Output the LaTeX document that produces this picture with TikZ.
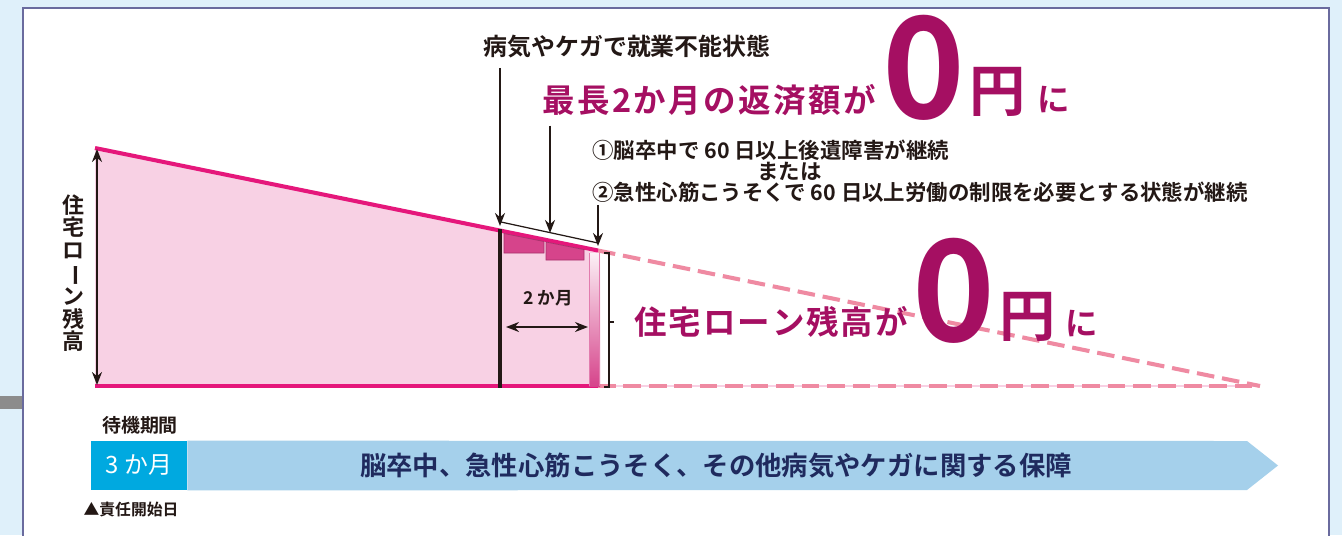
\documentclass[tikz,border=0pt]{standalone}
\usepackage{fontspec}
\setmainfont{Noto Sans CJK JP}[BoldFont={* Bold}]
\usepackage{graphicx}
\usetikzlibrary{arrows.meta,positioning,calc}
\definecolor{bgblue}{HTML}{DFF0FA}
\definecolor{panelline}{HTML}{6A6B9E}
\definecolor{balmagenta}{HTML}{E5177B}
\definecolor{pinkfill}{HTML}{F8D1E4}
\definecolor{pinkdash}{HTML}{EF8AA2}
\definecolor{pinkdark}{HTML}{D6448B}
\definecolor{pinkedge}{HTML}{A8306B}
\definecolor{headmag}{HTML}{A50F62}
\definecolor{waitblue}{HTML}{00A9E0}
\definecolor{covblue}{HTML}{A5D0EB}
\definecolor{navytext}{HTML}{1F2A5E}
\definecolor{inktext}{HTML}{231815}
\newcommand\hk{\kern1.4pt}
\newcommand\lk{\kern1.1pt}
\tikzset{
  balline/.style={draw=balmagenta,line width=2.3pt},
  dashline/.style={draw=pinkdash,line width=2.3pt,dash pattern=on 10pt off 4.5pt},
  downarr/.style={-{Stealth[length=0.26cm,width=0.2cm]},draw=inktext,line width=1.1pt},
  duarr/.style={{Stealth[length=0.26cm,width=0.2cm]}-{Stealth[length=0.26cm,width=0.2cm]},draw=inktext,line width=1.1pt},
  sicklbl/.style={font=\bfseries\fontsize{13.6}{15}\selectfont,text=inktext,inner sep=0pt},
  condlbl/.style={font=\bfseries\fontsize{12.2}{11.7}\selectfont,text=inktext,inner sep=0pt,align=left},
  headlbl/.style={font=\bfseries\fontsize{18.5}{20}\selectfont,text=headmag,inner sep=0pt},
  zerolbl/.style={font=\bfseries\fontsize{80}{80}\selectfont,text=headmag,inner sep=0pt},
  yenlbl/.style={font=\bfseries\fontsize{32}{32}\selectfont,text=headmag,inner sep=0pt},
  monlbl/.style={font=\bfseries\fontsize{10}{12}\selectfont,text=inktext,inner sep=0pt},
  vlbl/.style={font=\bfseries\fontsize{12.5}{12.7}\selectfont,text=inktext,inner sep=0pt,align=center},
  waitlbl/.style={font=\bfseries\fontsize{10.8}{12}\selectfont,text=inktext,inner sep=0pt},
  waitbox/.style={fill=waitblue,text=white,font=\fontsize{13.6}{15}\selectfont,
    minimum width=1.92cm,minimum height=0.98cm,inner sep=0pt},
  covlbl/.style={font=\bfseries\fontsize{15}{16}\selectfont,text=navytext,inner sep=0pt},
  startlbl/.style={font=\bfseries\fontsize{9}{10}\selectfont,text=inktext,inner sep=0pt},
}

\begin{document}
\begin{tikzpicture}[x=0.02cm,y=-0.02cm]
  % background and frame
  \fill[bgblue] (0,0) rectangle (1342,535);
  \useasboundingbox (0,0) rectangle (1342,535);
  \fill[black!45] (0,396) rectangle (23,409);
  \filldraw[fill=white,draw=panelline,line width=1.4pt] (23,8) rectangle (1329,548);

  % loan balance
  \coordinate (tl) at (95,148);
  \coordinate (bl) at (95,386);
  \coordinate (tm) at (598,250.5);
  \coordinate (bm) at (598,386);
  \coordinate (zero) at (1260,386);
  \fill[pinkfill] (tl) -- (tm) -- (bm) -- (bl) -- cycle;
  \draw[pinkfill,line width=0.8pt] (bm) -- (zero);
  \draw[dashline] (tm) -- (zero);
  \draw[dashline] (bm) -- (zero);
  \draw[balline] (tl) -- (tm);
  \draw[balline] (bl) -- (bm);

  % skipped repayments
  \filldraw[fill=pinkdark,draw=pinkedge,line width=0.4pt]
    (504,233.5) -- (544,241.5) -- (544,253) -- (504,253) -- cycle;
  \filldraw[fill=pinkdark,draw=pinkedge,line width=0.4pt]
    (546,242) -- (584,249.6) -- (584,260) -- (546,260) -- cycle;
  \shade[top color=pinkdark!8,bottom color=pinkdark] (589,253) rectangle (600,386);
  \draw[pinkdark!70,line width=0.6pt] (589.5,253) -- (589.5,386) (599.5,253) -- (599.5,386);
  \draw[inktext,line width=0.6pt] (604,253) -- (609,253) -- (609,387) -- (604,387);
  \draw[inktext,line width=0.6pt] (609,322) -- (614,322);
  \draw[inktext,line width=2.3pt] (500,229) -- (500,388);
  \draw[inktext,line width=0.7pt] (501,222) -- (598,243);

  % labels and arrows
  \node[sicklbl] (sick) at (627,47) {病気やケガで就業不能状態};
  \node[headlbl,anchor=base west] (head) at (542,112)
    {最\hk 長\hk 2\hk か\hk 月\hk の\hk 返\hk 済\hk 額\hk が};
  \node[zerolbl,anchor=base west] (head0) at (882,118) {0};
  \node[yenlbl,anchor=base west] (headyen) at (969,111) {円};
  \node[headlbl,anchor=base west] (headni) at (1037,111) {に};
  \node[condlbl,anchor=north west] (cond) at (592,140)
    {①脳卒中で 60 日以上後遺障害が継続\\
     \hspace*{3.3cm}または\\
     ②急性心筋こうそくで 60 日以上労働の制限を必要とする状態が継続};
  \coordinate (hitA) at (500,226);
  \coordinate (hitB) at (550,233);
  \coordinate (hitC) at (598,246);
  \draw[downarr] ([yshift=-0.18cm]sick.south -| hitA) -- (hitA);
  \draw[downarr] ([yshift=-0.2cm]head.south -| hitB) -- (hitB);
  \draw[downarr] ([yshift=-0.05cm]cond.south -| hitC) -- (hitC);

  % two months
  \node[monlbl] (two) at (548,298) {2 か月};
  \coordinate (twoL) at (506,327);
  \coordinate (twoR) at (588,327);
  \draw[duarr] (twoL) -- (twoR);

  % balance axis
  \coordinate (axT) at (97,149);
  \coordinate (axB) at (97,385);
  \draw[duarr] (axT) -- (axB);
  \node[vlbl] (axis) at (73,273)
    {住\\宅\\ロ\\\rotatebox[origin=c]{-90}{ー}\\ン\\残\\高};

  % loan becomes zero
  \node[headlbl,anchor=base west] (loan) at (634,334)
    {住\lk 宅\lk ロ\lk ー\lk ン\lk 残\lk 高\lk が};
  \node[zerolbl,anchor=base west] (loan0) at (912,341) {0};
  \node[yenlbl,anchor=base west] (loanyen) at (999,336) {円};
  \node[headlbl,anchor=base west] (loanni) at (1065,335) {に};

  % coverage period
  \node[waitlbl] (wait) at (140,425) {待機期間};
  \node[waitbox] (wbox) at (139,465.5) {3 か月};
  \fill[covblue] (wbox.north east) -- (1247,441) -- (1278,465.5) -- (1247,490)
    -- (wbox.south east) -- cycle;
  \node[covlbl] (cover) at (716,466) {脳卒中、急性心筋こうそく、その他病気やケガに関する保障};
  \node[startlbl] (start) at (131,510) {▲責任開始日};
\end{tikzpicture}
\end{document}
